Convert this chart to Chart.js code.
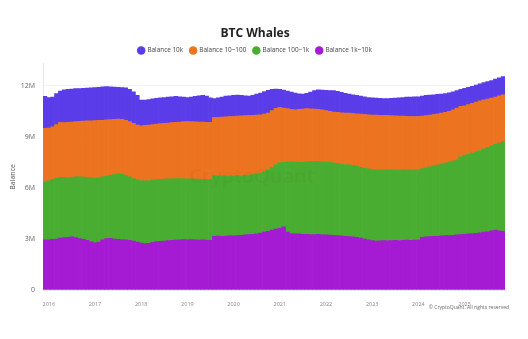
<!DOCTYPE html>
<html>
<head>
<meta charset="utf-8">
<script src="https://cdn.jsdelivr.net/npm/chart.js@4"></script>
<style>
  html, body { margin: 0; padding: 0; background: #fff; }
  #wrap { position: relative; width: 528px; height: 339px; }
</style>
</head>
<body>
<div id="wrap"><canvas id="whaleChart"></canvas></div>
<script>
// monthly points, Dec 2015 .. Nov 2025 (values in millions of BTC)
const firstYear = 2015, firstMonth = 12, monthCount = 120;
const months = [];
for (let i = 0; i < monthCount; i++) {
    const m = (firstMonth - 1 + i) % 12 + 1;
    const y = firstYear + Math.floor((firstMonth - 1 + i) / 12);
    months.push(y + '-' + String(m).padStart(2, '0'));
}

const bal1kTo10k = [
    2.95,
    2.95, 2.98, 3.00, 3.05, 3.08, 3.10, 3.12, 3.08, 3.02, 2.98, 2.92, 2.85,
    2.78, 2.82, 2.95, 3.02, 3.04, 3.00, 2.98, 2.97, 2.95, 2.92, 2.88, 2.82,
    2.76, 2.73, 2.75, 2.80, 2.84, 2.86, 2.88, 2.90, 2.92, 2.94, 2.95, 2.96,
    2.97, 2.96, 2.95, 2.94, 2.95, 2.93, 2.92, 3.16, 3.17, 3.15, 3.17, 3.18,
    3.18, 3.20, 3.22, 3.24, 3.26, 3.27, 3.30, 3.35, 3.40, 3.45, 3.52, 3.58,
    3.62, 3.72, 3.40, 3.32, 3.30, 3.30, 3.28, 3.27, 3.26, 3.26, 3.27, 3.25,
    3.24, 3.23, 3.22, 3.20, 3.18, 3.15, 3.14, 3.12, 3.10, 3.05, 3.00, 2.95,
    2.90, 2.88, 2.89, 2.90, 2.91, 2.90, 2.92, 2.91, 2.92, 2.93, 2.92, 2.93,
    2.93, 3.10, 3.12, 3.14, 3.15, 3.16, 3.18, 3.20, 3.20, 3.22, 3.24, 3.26,
    3.28, 3.30, 3.32, 3.33, 3.36, 3.40, 3.44, 3.48, 3.52, 3.48, 3.45
];
const bal100To1k = [
    3.43,
    3.47, 3.52, 3.58, 3.58, 3.54, 3.50, 3.50, 3.57, 3.64, 3.66, 3.70, 3.75,
    3.80, 3.78, 3.70, 3.68, 3.70, 3.78, 3.83, 3.83, 3.79, 3.73, 3.67, 3.66,
    3.68, 3.69, 3.69, 3.66, 3.64, 3.64, 3.64, 3.63, 3.62, 3.61, 3.60, 3.58,
    3.57, 3.57, 3.57, 3.58, 3.56, 3.57, 3.58, 3.56, 3.56, 3.57, 3.56, 3.55,
    3.55, 3.54, 3.51, 3.51, 3.50, 3.51, 3.52, 3.53, 3.55, 3.60, 3.68, 3.80,
    3.85, 3.78, 4.12, 4.21, 4.22, 4.20, 4.23, 4.26, 4.29, 4.30, 4.28, 4.29,
    4.28, 4.27, 4.25, 4.23, 4.22, 4.23, 4.22, 4.21, 4.18, 4.17, 4.16, 4.17,
    4.18, 4.18, 4.16, 4.15, 4.15, 4.17, 4.14, 4.14, 4.14, 4.14, 4.14, 4.14,
    4.14, 4.02, 4.06, 4.10, 4.15, 4.18, 4.22, 4.26, 4.32, 4.36, 4.38, 4.59,
    4.64, 4.68, 4.73, 4.79, 4.84, 4.90, 4.95, 5.00, 5.04, 5.16, 5.27
];
const bal10To100 = [
    3.12,
    3.10, 3.10, 3.14, 3.22, 3.22, 3.26, 3.26, 3.25, 3.26, 3.29, 3.32, 3.35,
    3.38, 3.37, 3.33, 3.30, 3.28, 3.25, 3.24, 3.24, 3.24, 3.25, 3.25, 3.22,
    3.22, 3.26, 3.26, 3.26, 3.27, 3.28, 3.28, 3.29, 3.30, 3.31, 3.33, 3.36,
    3.37, 3.37, 3.37, 3.36, 3.36, 3.36, 3.35, 3.42, 3.42, 3.44, 3.45, 3.47,
    3.47, 3.48, 3.51, 3.50, 3.50, 3.49, 3.46, 3.42, 3.39, 3.35, 3.35, 3.30,
    3.26, 3.20, 3.14, 3.09, 3.08, 3.12, 3.13, 3.13, 3.10, 3.08, 3.07, 3.06,
    3.03, 3.00, 2.99, 3.01, 3.02, 3.02, 3.04, 3.05, 3.08, 3.12, 3.16, 3.18,
    3.21, 3.22, 3.22, 3.21, 3.20, 3.18, 3.18, 3.18, 3.16, 3.14, 3.14, 3.13,
    3.13, 3.10, 3.07, 3.04, 3.02, 3.02, 3.00, 2.99, 2.98, 3.02, 3.08, 2.95,
    2.91, 2.92, 2.93, 2.93, 2.92, 2.88, 2.83, 2.80, 2.78, 2.78, 2.76
];
const bal10k = [
    1.88,
    1.80, 1.74, 1.83, 1.85, 1.93, 1.94, 1.94, 1.94, 1.93, 1.93, 1.93, 1.93,
    1.94, 1.95, 1.96, 1.96, 1.93, 1.90, 1.87, 1.86, 1.90, 1.90, 1.85, 1.75,
    1.50, 1.48, 1.50, 1.52, 1.52, 1.52, 1.52, 1.52, 1.52, 1.52, 1.48, 1.44,
    1.41, 1.44, 1.49, 1.54, 1.57, 1.54, 1.45, 1.12, 1.15, 1.19, 1.22, 1.22,
    1.24, 1.24, 1.21, 1.17, 1.14, 1.18, 1.24, 1.28, 1.32, 1.34, 1.25, 1.14,
    1.07, 1.06, 1.04, 1.02, 0.98, 0.92, 0.88, 0.90, 0.99, 1.08, 1.15, 1.16,
    1.19, 1.23, 1.26, 1.24, 1.20, 1.16, 1.12, 1.10, 1.08, 1.06, 1.04, 1.02,
    1.01, 1.00, 1.00, 1.00, 1.00, 1.02, 1.04, 1.07, 1.10, 1.13, 1.15, 1.16,
    1.16, 1.18, 1.19, 1.18, 1.16, 1.14, 1.12, 1.10, 1.10, 1.05, 1.02, 1.00,
    1.03, 1.02, 1.00, 1.00, 1.00, 1.01, 1.03, 1.04, 1.06, 1.06, 1.07
];
const yTicks = [0, 3, 6, 9, 12];

const FONT = '"Open Sans", "Noto Sans", sans-serif';

// faint watermark + copyright line
const credits = {
    id: 'credits',
    afterDatasetsDraw(chart) {
        const ctx = chart.ctx;
        ctx.save();
        ctx.font = '600 20px ' + FONT;
        ctx.fillStyle = 'rgba(0,0,0,0.025)';
        ctx.textAlign = 'center';
        ctx.textBaseline = 'middle';
        ctx.fillText('CryptoQuant', 252, 177);
        ctx.restore();
    },
    afterDraw(chart) {
        const ctx = chart.ctx;
        ctx.save();
        ctx.font = '5px ' + FONT;
        ctx.fillStyle = '#666';
        ctx.textAlign = 'right';
        ctx.textBaseline = 'middle';
        ctx.fillText('© CryptoQuant. All rights reserved', 509, 308);
        ctx.restore();
    }
};

new Chart(document.getElementById('whaleChart'), {
    type: 'bar',
    data: {
        labels: months,
        datasets: [
            { label: 'Balance 1k~10k', data: bal1kTo10k, backgroundColor: '#a41bd3' },
            { label: 'Balance 100~1k', data: bal100To1k, backgroundColor: '#49ad31' },
            { label: 'Balance 10~100', data: bal10To100, backgroundColor: '#ec731f' },
            { label: 'Balance 10k', data: bal10k, backgroundColor: '#5a3ce8' }
        ]
    },
    options: {
        responsive: true,
        maintainAspectRatio: false,
        animation: false,
        datasets: { bar: { barPercentage: 1, categoryPercentage: 1, borderWidth: 0 } },
        layout: { padding: { left: 5, right: 23, top: 22, bottom: 33 } },
        plugins: {
            title: {
                display: true,
                text: 'BTC Whales',
                color: '#222',
                font: { family: FONT, size: 12, weight: 'bold' },
                padding: { top: 4, bottom: 0 }
            },
            legend: {
                reverse: true,
                labels: {
                    usePointStyle: true,
                    pointStyle: 'circle',
                    boxWidth: 6,
                    boxHeight: 6,
                    padding: 7,
                    color: '#444',
                    font: { family: FONT, size: 6.4 }
                }
            },
            tooltip: { enabled: false }
        },
        scales: {
            x: {
                stacked: true,
                grid: { display: false },
                border: { color: '#e6e6e6' },
                afterFit: s => { s.height = 16; },
                ticks: {
                    autoSkip: false,
                    maxRotation: 0,
                    color: '#888',
                    font: { family: FONT, size: 5.5 },
                    padding: 3,
                    callback: function (v, i) {
                        const lab = months[i];
                        return lab.endsWith('-01') ? lab.slice(0, 4) : '';
                    }
                }
            },
            y: {
                stacked: true,
                min: 0,
                max: 13.3,
                afterFit: s => { s.width = 38; },
                afterBuildTicks: s => { s.ticks = yTicks.map(v => ({ value: v })); },
                grid: { color: '#f3f3f3', drawTicks: false },
                border: { color: '#e6e6e6' },
                title: {
                    display: true,
                    text: 'Balance',
                    color: '#555',
                    font: { family: FONT, size: 7 },
                    padding: 4
                },
                ticks: {
                    color: '#666',
                    font: { family: FONT, size: 7 },
                    padding: 8,
                    callback: v => v === 0 ? '0' : v + 'M'
                }
            }
        }
    },
    plugins: [credits]
});
</script>
</body>
</html>
